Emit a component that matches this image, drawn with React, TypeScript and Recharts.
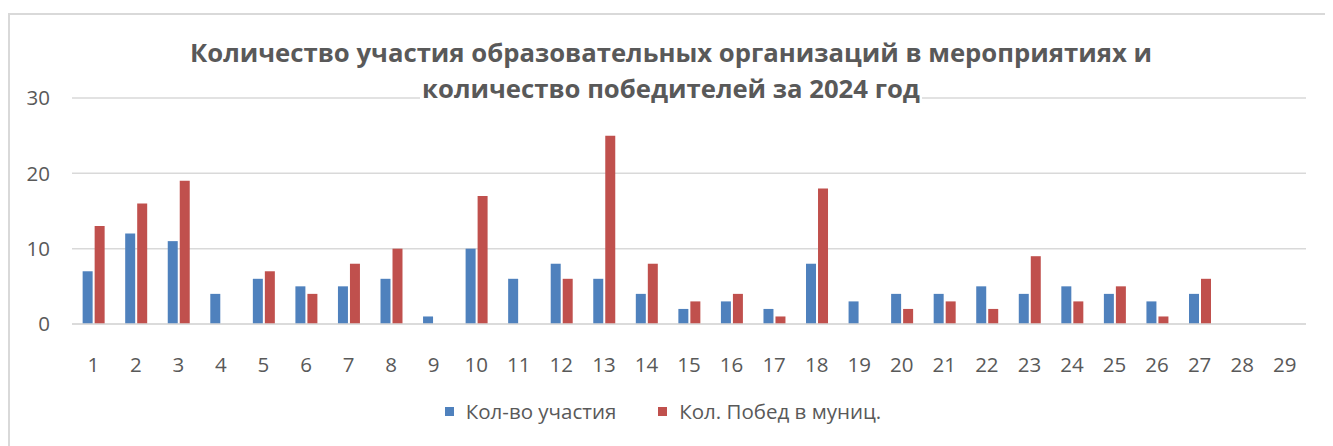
import React from "react";
import { BarChart, Bar, XAxis, YAxis, CartesianGrid, Legend } from "recharts";

const categories = ["1","2","3","4","5","6","7","8","9","10","11","12","13","14","15","16","17","18","19","20","21","22","23","24","25","26","27","28","29"];
const participation = [7,12,11,4,6,5,5,6,1,10,6,8,6,4,2,3,2,8,3,4,4,5,4,5,4,3,4,null,null];
const wins = [13,16,19,null,7,4,8,10,null,17,null,6,25,8,3,4,1,18,null,2,3,2,9,3,5,1,6,null,null];
const yTicks = [0,10,20,30];
const titleLines = ["Количество участия образовательных организаций в мероприятиях и", "количество победителей за 2024 год"];
const seriesNames = ["Кол-во участия", "Кол. Побед в муниц."];
const colors = ["#4F81BD", "#C0504D"];

const data = categories.map((c, i) => ({ name: c, a: participation[i], b: wins[i] }));

const FONT = "'Open Sans', 'Noto Sans', sans-serif";
const TEXT = "#595959";

const LegendContent = (props: any) => {
  const { payload } = props;
  return (
    <div style={{ display: "flex", justifyContent: "center", fontFamily: FONT, fontSize: 20.5, lineHeight: "28px", color: TEXT, paddingTop: 23, paddingLeft: 12 }}>
      {(payload || []).map((p: any, i: number) => (
        <div key={i} style={{ display: "flex", alignItems: "center", marginRight: i === 0 ? 42 : 0 }}>
          <span style={{ display: "inline-block", width: 9, height: 9, background: p.color, marginRight: 12 }} />
          <span>{p.value}</span>
        </div>
      ))}
    </div>
  );
};

export default function App() {
  return (
    <div style={{ position: "relative", width: 1325, height: 438, overflow: "hidden", background: "#fff" }}>
      <div style={{ position: "absolute", left: 0, top: 5, width: 1321, height: 440, border: "2px solid #D9D9D9" }} />
      <div style={{ position: "absolute", left: 0, top: 27, width: 1326, textAlign: "center", fontFamily: FONT, fontWeight: 700, fontSize: 25.7, lineHeight: "36px", color: TEXT, zIndex: 2 }}>
        <div>{titleLines[0]}</div>
        <div><span style={{ background: "#fff", padding: "0 2px" }}>{titleLines[1]}</span></div>
      </div>
      <div style={{ position: "absolute", left: 0, top: 0 }}>
        <BarChart width={1325} height={438} data={data} margin={{ top: 90, right: 27, left: 0, bottom: 20 }} barCategoryGap="25%" barGap={2}>
          <CartesianGrid vertical={false} stroke="#D9D9D9" strokeWidth={1.5} />
          <XAxis dataKey="name" axisLine={{ stroke: "#D9D9D9", strokeWidth: 1.5 }} tickLine={false} tickMargin={27} height={50} interval={0}
            tick={{ fill: TEXT, fontSize: 20.5, fontFamily: FONT }} />
          <YAxis width={64} domain={[0, 30]} ticks={yTicks} axisLine={false} tickLine={false} tickMargin={16}
            tick={{ fill: TEXT, fontSize: 20.5, fontFamily: FONT }} />
          <Legend verticalAlign="bottom" height={52} content={<LegendContent />} />
          <Bar dataKey="a" name={seriesNames[0]} fill={colors[0]} isAnimationActive={false} />
          <Bar dataKey="b" name={seriesNames[1]} fill={colors[1]} isAnimationActive={false} />
        </BarChart>
      </div>
    </div>
  );
}
